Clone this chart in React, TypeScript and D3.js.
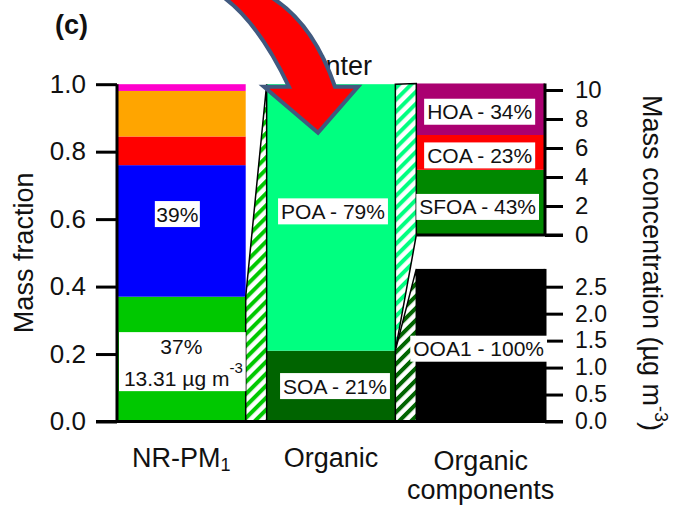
import React, { useEffect, useRef } from "react";
import * as d3 from "d3";

// Bar categories along the x axis
const categories = ["NR-PM1", "Organic", "Organic components"];

// NR-PM1 chemical composition (mass fractions, stacked bottom to top)
const speciesNames = ["Org", "NO3", "SO4", "NH4", "Chl"];
const speciesFractions = [0.37, 0.39, 0.085, 0.135, 0.02];
const speciesColors = ["#00C800", "#0000FF", "#FF0000", "#FFA500", "#FF00CC"];
const totalMass = 13.31; // µg m-3

// Organic aerosol split (fractions, bottom to top)
const organicNames = ["SOA", "POA"];
const organicFractions = [0.21, 0.79];
const organicColors = ["#006400", "#00FF80"];

// POA factors (shares of POA mass, bottom to top) and POA mass
const poaNames = ["SFOA", "COA", "HOA"];
const poaShares = [0.43, 0.23, 0.34];
const poaColors = ["#008800", "#FF0000", "#AA0070"];
const poaTotal = 10.45; // µg m-3

// SOA factors
const soaNames = ["OOA1"];
const soaShares = [1.0];
const soaColors = ["#000000"];
const soaTotal = 2.83; // µg m-3

// Tick values
const fracTicks = [0, 0.2, 0.4, 0.6, 0.8, 1.0];
const poaTicks = [0, 2, 4, 6, 8, 10];
const soaTicks = [0, 0.5, 1.0, 1.5, 2.0, 2.5];

const season = "Winter";
const panelTag = "(c)";

function stackRanges(values: number[]): [number, number][] {
  let s = 0;
  return values.map((v) => {
    const a = s;
    s += v;
    return [a, s];
  });
}

export default function App() {
  const ref = useRef<SVGSVGElement>(null);

  useEffect(() => {
    const svg = d3.select(ref.current);
    svg.selectAll("*").remove();

    const font = "'Liberation Sans', Arial, Helvetica, sans-serif";
    const ink = "#111";

    const x = d3.scaleBand<string>().domain(categories).range([117, 545]).paddingInner(0.14);
    const bw = x.bandwidth();
    const yFrac = d3.scaleLinear().domain([0, 1]).range([421.5, 84.2]);
    const yPoa = d3.scaleLinear().domain([0, 10]).range([235, 90]);
    const ySoa = d3.scaleLinear().domain([0, 2.5]).range([421.5, 286.7]);

    const xA = x(categories[0])!;
    const xB = x(categories[1])!;
    const xC = x(categories[2])!;

    // hatch patterns for the connecting strips
    const defs = svg.append("defs");
    const hatch = (id: string, color: string) => {
      const p = defs
        .append("pattern")
        .attr("id", id)
        .attr("patternUnits", "userSpaceOnUse")
        .attr("width", 8.5)
        .attr("height", 8.5)
        .attr("patternTransform", "rotate(45)");
      p.append("rect").attr("width", 8.5).attr("height", 8.5).attr("fill", "#fff");
      p.append("rect").attr("width", 4).attr("height", 8.5).attr("fill", color);
    };
    hatch("hatchOrg", speciesColors[0]);
    hatch("hatchPoa", organicColors[1]);
    hatch("hatchSoa", organicColors[0]);

    const g = svg.append("g");

    // NR-PM1 stacked bar
    stackRanges(speciesFractions).forEach(([a, b], i) => {
      g.append("rect")
        .attr("x", xA)
        .attr("y", yFrac(b))
        .attr("width", bw)
        .attr("height", yFrac(a) - yFrac(b))
        .attr("fill", speciesColors[i])
        .attr("data-name", speciesNames[i]);
    });

    // Organic stacked bar
    stackRanges(organicFractions).forEach(([a, b], i) => {
      g.append("rect")
        .attr("x", xB)
        .attr("y", yFrac(b))
        .attr("width", bw)
        .attr("height", yFrac(a) - yFrac(b))
        .attr("fill", organicColors[i])
        .attr("data-name", organicNames[i]);
    });

    // POA components (upper panel, concentration)
    const poaConc = poaShares.map((s) => s * poaTotal);
    const poaRanges = stackRanges(poaConc);
    poaRanges.forEach(([a, b], i) => {
      g.append("rect")
        .attr("x", xC)
        .attr("y", yPoa(b))
        .attr("width", bw)
        .attr("height", yPoa(a) - yPoa(b))
        .attr("fill", poaColors[i]);
    });

    // SOA components (lower panel, concentration)
    const soaConc = soaShares.map((s) => s * soaTotal);
    const soaRanges = stackRanges(soaConc);
    soaRanges.forEach(([a, b], i) => {
      g.append("rect")
        .attr("x", xC)
        .attr("y", ySoa(b))
        .attr("width", bw)
        .attr("height", ySoa(a) - ySoa(b))
        .attr("fill", soaColors[i]);
    });

    // connecting strips
    const line = d3.line();
    const orgFrac = speciesFractions[0];
    const soaFrac = organicFractions[0];
    const e1 = xA + bw;
    const e2 = xB + bw;
    const strip = (pts: [number, number][], fill: string) =>
      g
        .append("path")
        .attr("d", line(pts)! + "Z")
        .attr("fill", fill)
        .attr("stroke", "#000")
        .attr("stroke-width", 1.5)
        .attr("stroke-linejoin", "miter");
    strip(
      [
        [e1, yFrac(orgFrac)],
        [xB, yFrac(1)],
        [xB, yFrac(0)],
        [e1, yFrac(0)],
      ],
      "url(#hatchOrg)"
    );
    strip(
      [
        [e2, yFrac(1)],
        [xC, yPoa(poaTotal)],
        [xC, yPoa(0)],
        [e2, yFrac(soaFrac)],
      ],
      "url(#hatchPoa)"
    );
    strip(
      [
        [e2, yFrac(soaFrac)],
        [xC, ySoa(soaTotal)],
        [xC, ySoa(0)],
        [e2, yFrac(0)],
      ],
      "url(#hatchSoa)"
    );

    // axes
    const styleAxis = (ax: d3.Selection<SVGGElement, unknown, null, undefined>, size: number) => {
      ax.select(".domain").remove();
      ax.selectAll(".tick line").attr("stroke", "#000").attr("stroke-width", 3);
      ax.selectAll(".tick text")
        .attr("fill", ink)
        .style("font-family", font)
        .style("font-size", `${size}px`);
    };

    const left = svg
      .append("g")
      .attr("transform", `translate(${117},0)`)
      .call(
        d3
          .axisLeft(yFrac)
          .tickValues(fracTicks)
          .tickSize(21)
          .tickPadding(10)
          .tickFormat(d3.format(".1f"))
      );
    styleAxis(left as any, 26);

    const rightTop = svg
      .append("g")
      .attr("transform", `translate(${545},0)`)
      .call(d3.axisRight(yPoa).tickValues(poaTicks).tickSize(18).tickPadding(12).tickFormat(d3.format("d")));
    styleAxis(rightTop as any, 24);

    const rightBot = svg
      .append("g")
      .attr("transform", `translate(${545},0)`)
      .call(d3.axisRight(ySoa).tickValues(soaTicks).tickSize(18).tickPadding(12).tickFormat(d3.format(".1f")));
    styleAxis(rightBot as any, 23);

    const axisLine = (x1: number, y1: number, x2: number, y2: number) =>
      svg
        .append("line")
        .attr("x1", x1)
        .attr("y1", y1)
        .attr("x2", x2)
        .attr("y2", y2)
        .attr("stroke", "#000")
        .attr("stroke-width", 3);
    axisLine(117, yFrac(1), 117, yFrac(0) + 1.5);
    axisLine(96, yFrac(0), 563, yFrac(0));
    axisLine(545, yPoa(poaTotal), 545, yPoa(0));
    axisLine(xC, yPoa(0), 563, yPoa(0));
    axisLine(545, ySoa(soaTotal), 545, ySoa(0));

    // boxed value labels
    const boxed = (cx: number, cy: number, text: string, padX = 3, padY = 1.5) => {
      const grp = svg.append("g");
      const t = grp
        .append("text")
        .attr("x", cx)
        .attr("y", cy)
        .attr("text-anchor", "middle")
        .attr("dominant-baseline", "central")
        .attr("fill", ink)
        .style("font-family", font)
        .style("font-size", "21px")
        .text(text);
      const bb = (t.node() as SVGTextElement).getBBox();
      grp
        .insert("rect", "text")
        .attr("x", bb.x - padX)
        .attr("y", bb.y - padY)
        .attr("width", bb.width + 2 * padX)
        .attr("height", bb.height + 2 * padY)
        .attr("fill", "#fff");
    };

    const pct = (v: number) => `${Math.round(v * 100)}%`;
    const centerA = xA + bw / 2;
    const centerB = xB + bw / 2;
    const centerC = xC + bw / 2;

    // NO3 share
    boxed(centerA - 4, yFrac(0.615), pct(speciesFractions[1]), 1.5);

    // Org share + total NR-PM1 mass
    {
      const grp = svg.append("g");
      const [a, b] = [0.09, 0.265];
      grp
        .append("rect")
        .attr("x", xA + 2)
        .attr("y", yFrac(b))
        .attr("width", bw - 2)
        .attr("height", yFrac(a) - yFrac(b))
        .attr("fill", "#fff");
      grp
        .append("text")
        .attr("x", centerA)
        .attr("y", yFrac(0.223))
        .attr("text-anchor", "middle")
        .attr("dominant-baseline", "central")
        .attr("fill", ink)
        .style("font-family", font)
        .style("font-size", "21px")
        .text(pct(speciesFractions[0]));
      const t2 = grp
        .append("text")
        .attr("x", centerA + 2)
        .attr("y", yFrac(0.13))
        .attr("text-anchor", "middle")
        .attr("dominant-baseline", "central")
        .attr("fill", ink)
        .style("font-family", font)
        .style("font-size", "21px");
      t2.append("tspan").text(`${totalMass.toFixed(2)} µg m`);
      t2.append("tspan").attr("dy", -11).style("font-size", "15px").text("-3");
    }

    // organic split labels
    boxed(centerB + 2, yFrac(0.623), `${organicNames[1]} - ${pct(organicFractions[1])}`);
    boxed(centerB + 4, yFrac(organicFractions[0] / 2), `${organicNames[0]} - ${pct(organicFractions[0])}`);

    // POA factor labels
    const poaLabelShift = [4.5, 3, 2.5];
    poaRanges.forEach(([a, b], i) => {
      boxed(centerC - 1 + (i === 0 ? -2 : 0), yPoa((a + b) / 2) + poaLabelShift[i], `${poaNames[i]} - ${pct(poaShares[i])}`);
    });

    // SOA factor labels
    soaRanges.forEach(([a, b], i) => {
      boxed(centerC - 2, ySoa((a + b) / 2) + 3.5, `${soaNames[i]} - ${pct(soaShares[i])}`);
    });

    // category labels
    categories.forEach((c, i) => {
      const cx = x(c)! + bw / 2;
      const t = svg
        .append("text")
        .attr("x", cx)
        .attr("y", i === 2 ? 470 : 467)
        .attr("text-anchor", "middle")
        .attr("fill", ink)
        .style("font-family", font)
        .style("font-size", "27px");
      const sub = c.match(/^(.*PM)(\d)$/);
      if (sub) {
        t.append("tspan").text(sub[1]);
        t.append("tspan").attr("dy", 4).style("font-size", "18px").text(sub[2]);
      } else {
        const words = c.split(" ");
        words.forEach((w, k) => {
          t.append("tspan")
            .attr("x", cx)
            .attr("dy", k === 0 ? 0 : 29)
            .text(w);
        });
      }
    });

    // axis titles
    svg
      .append("text")
      .attr("transform", `translate(33,${(yFrac(0) + yFrac(1)) / 2}) rotate(-90)`)
      .attr("text-anchor", "middle")
      .attr("fill", ink)
      .style("font-family", font)
      .style("font-size", "27px")
      .text("Mass fraction");

    const rt = svg
      .append("text")
      .attr("transform", `translate(643,263) rotate(90)`)
      .attr("text-anchor", "middle")
      .attr("fill", ink)
      .style("font-family", font)
      .style("font-size", "27px");
    rt.append("tspan").text("Mass concentration (µg m");
    rt.append("tspan").attr("dy", -12).style("font-size", "18px").text("-3");
    rt.append("tspan").attr("dy", 12).text(")");

    // panel tag
    svg
      .append("text")
      .attr("x", 55)
      .attr("y", 34)
      .attr("fill", ink)
      .style("font-family", font)
      .style("font-size", "27px")
      .style("font-weight", "bold")
      .text(panelTag);

    // season title
    svg
      .append("text")
      .attr("x", centerB + 2)
      .attr("y", yFrac(1) - 9)
      .attr("text-anchor", "middle")
      .attr("fill", ink)
      .style("font-family", font)
      .style("font-size", "27px")
      .text(season);

    // curved pointer arrow into the organic bar
    const tipX = centerB - 13;
    const tipY = yFrac(0.856);
    const arrow = d3.path();
    arrow.moveTo(tipX - 98, tipY - 138);
    arrow.quadraticCurveTo(tipX - 61, tipY - 113, tipX - 29, tipY - 46);
    arrow.lineTo(tipX - 54, tipY - 46);
    arrow.lineTo(tipX, tipY);
    arrow.lineTo(tipX + 40, tipY - 46);
    arrow.lineTo(tipX + 17, tipY - 46);
    arrow.quadraticCurveTo(tipX - 6, tipY - 113, tipX - 51, tipY - 138);
    arrow.closePath();
    svg
      .append("path")
      .attr("d", arrow.toString())
      .attr("fill", "#FF0000")
      .attr("stroke", "#41597F")
      .attr("stroke-width", 4)
      .attr("stroke-linejoin", "miter");
  }, []);

  return (
    <svg
      ref={ref}
      width={679}
      height={506}
      style={{ position: "absolute", left: 0, top: 0, background: "#fff" }}
    />
  );
}
